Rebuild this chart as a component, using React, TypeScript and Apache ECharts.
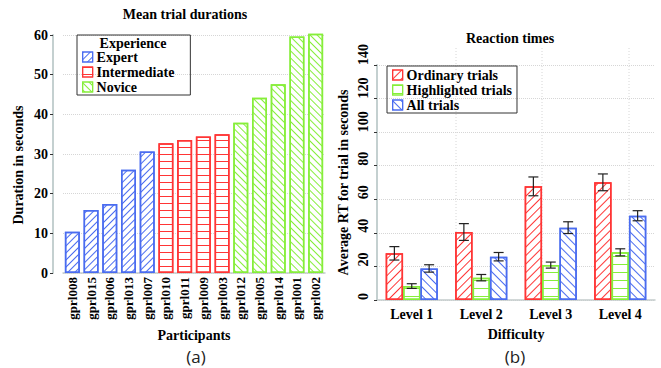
import React, { useEffect, useRef } from 'react';
import * as echarts from 'echarts';

// ---------- data ----------
const participants = ['gprl008', 'gprl015', 'gprl006', 'gprl013', 'gprl007', 'gprl010', 'gprl011', 'gprl009', 'gprl003', 'gprl012', 'gprl005', 'gprl014', 'gprl001', 'gprl002'];
const expertDurations = [10.4, 15.9, 17.4, 26.0, 30.6, null, null, null, null, null, null, null, null, null];
const intermediateDurations = [null, null, null, null, null, 32.7, 33.5, 34.4, 35.0, null, null, null, null, null];
const noviceDurations = [null, null, null, null, null, null, null, null, null, 37.9, 44.2, 47.6, 59.6, 60.3];

const levels = ['Level 1', 'Level 2', 'Level 3', 'Level 4'];
const ordinaryMeans = [27.8, 40.5, 67.7, 70.1];
const ordinaryErr = [4.0, 5.0, 5.6, 5.0];
const highlightedMeans = [8.3, 13.3, 20.8, 28.4];
const highlightedErr = [1.4, 1.9, 1.8, 2.1];
const allMeans = [18.8, 25.8, 43.1, 50.2];
const allErr = [2.2, 2.5, 3.5, 3.0];

const SERIF = "'Liberation Serif', 'Times New Roman', serif";
const BLUE = '#4a6cf0';
const RED = '#ff3535';
const GREEN = '#86ee3a';

function decal(color: string, kind: 'fwd' | 'back' | 'horiz', gap = 4) {
  return {
    symbol: 'rect',
    symbolSize: 1,
    color,
    dashArrayX: [1, 0],
    dashArrayY: [0.8, gap],
    rotation: kind === 'fwd' ? -Math.PI / 4 : kind === 'back' ? Math.PI / 4 : 0,
  };
}

function barStyle(color: string, kind: 'fwd' | 'back' | 'horiz', gap: number) {
  return { color: '#ffffff', borderColor: color, borderWidth: 1.5, decal: decal(color, kind, gap) };
}

export default function App() {
  const ref = useRef<HTMLDivElement>(null);
  useEffect(() => {
    if (!ref.current) return;
    const chart = echarts.init(ref.current, undefined, { renderer: 'svg' });
    const errData: number[][] = [];
    [
      [ordinaryMeans, ordinaryErr],
      [highlightedMeans, highlightedErr],
      [allMeans, allErr],
    ].forEach(([m, e], si) => {
      m.forEach((v, ci) => errData.push([ci, v, e[ci], si]));
    });

    const tickLabel = { fontFamily: SERIF, fontWeight: 'bold', fontSize: 14, color: '#000' };
    const split = { show: true, lineStyle: { color: '#d6d6d6', type: 'dotted', width: 1 } };

    chart.setOption({
      animation: false,
      backgroundColor: '#ffffff',
      grid: [
        { left: 63, right: 336, top: 35, bottom: 95 },
        { left: 377, right: 6, top: 65, bottom: 68 },
      ],
      xAxis: [
        {
          type: 'category', gridIndex: 0, data: participants,
          name: 'Participants', nameLocation: 'middle', nameGap: 55,
          nameTextStyle: { ...tickLabel, fontSize: 14 },
          axisLine: { lineStyle: { color: '#c4cccc', width: 1.5 } },
          axisTick: { show: false },
          axisLabel: { ...tickLabel, fontSize: 13, rotate: 90, margin: 4, interval: 0 },
        },
        {
          type: 'category', gridIndex: 1, data: levels,
          name: 'Difficulty', nameLocation: 'middle', nameGap: 27,
          nameTextStyle: { ...tickLabel },
          axisLine: { lineStyle: { color: '#c4cccc', width: 1.5 } },
          axisTick: { show: false },
          axisLabel: { ...tickLabel, margin: 7 },
        },
      ],
      yAxis: [
        {
          type: 'value', gridIndex: 0, min: 0, max: 60, interval: 10, offset: 10,
          name: 'Duration in seconds', nameLocation: 'middle', nameGap: 28, nameRotate: 90,
          nameTextStyle: { ...tickLabel, padding: [0, 22, 0, 0] },
          axisLine: { show: true, lineStyle: { color: '#c4d0d0', width: 2 } },
          axisTick: { show: true, length: 3, lineStyle: { color: '#333' } },
          axisLabel: { ...tickLabel, margin: 5 },
          splitLine: split,
        },
        {
          type: 'value', gridIndex: 1, min: 0, max: 140, interval: 20,
          name: 'Average RT for trial in seconds', nameLocation: 'middle', nameGap: 27, nameRotate: 90,
          nameTextStyle: { ...tickLabel },
          axisLine: { show: true, lineStyle: { color: '#c4d0d0', width: 2 } },
          axisTick: { show: true, length: 3, lineStyle: { color: '#333' } },
          axisLabel: { ...tickLabel, rotate: 90, align: 'left', verticalAlign: 'bottom', margin: 7 },
          splitLine: split,
        },
      ],
      legend: [
        {
          data: ['Expert', 'Intermediate', 'Novice'], orient: 'vertical', left: 77, top: 35,
          padding: [15, 16, 1, 5], itemGap: 1, itemWidth: 10, itemHeight: 10, icon: 'rect',
          selectedMode: false, borderColor: '#333', borderWidth: 1, itemStyle: { borderWidth: 1.2 },
          textStyle: { ...tickLabel, fontSize: 14, padding: [0, 0, 0, -1] },
        },
        {
          data: ['Ordinary trials', 'Highlighted trials', 'All trials'], orient: 'vertical', left: 387, top: 66,
          padding: [2, 5, 1, 5], itemGap: 1, itemWidth: 10, itemHeight: 10, icon: 'rect',
          selectedMode: false, borderColor: '#333', borderWidth: 1, itemStyle: { borderWidth: 1.2 },
          textStyle: { ...tickLabel, fontSize: 14, padding: [0, 0, 0, -1] },
        },
      ],
      graphic: [
        { type: 'text', x: 185, y: 14, style: { text: 'Mean trial durations', align: 'center', verticalAlign: 'middle', font: `bold 14px ${SERIF}`, fill: '#000' } },
        { type: 'text', x: 510, y: 38, style: { text: 'Reaction times', align: 'center', verticalAlign: 'middle', font: `bold 14px ${SERIF}`, fill: '#000' } },
        { type: 'text', x: 133, y: 43, z: 100, style: { text: 'Experience', align: 'center', verticalAlign: 'middle', font: `bold 14px ${SERIF}`, fill: '#000' } },
        { type: 'text', x: 196, y: 356, style: { text: '(a)', align: 'center', verticalAlign: 'middle', font: `17px 'Open Sans', 'Liberation Sans', sans-serif`, fill: '#222' } },
        { type: 'text', x: 515, y: 356, style: { text: '(b)', align: 'center', verticalAlign: 'middle', font: `17px 'Open Sans', 'Liberation Sans', sans-serif`, fill: '#222' } },
        ...[456, 542, 629].map((x) => ({
          type: 'line', z: -1, shape: { x1: x, y1: 48, x2: x, y2: 300 },
          style: { stroke: '#d6d6d6', lineWidth: 1, lineDash: [1, 2] },
        })),
      ],
      series: [
        { name: 'Expert', type: 'bar', xAxisIndex: 0, yAxisIndex: 0, stack: 'p', barCategoryGap: '20%', clip: false, data: expertDurations, itemStyle: barStyle(BLUE, 'fwd', 4) },
        { name: 'Intermediate', type: 'bar', xAxisIndex: 0, yAxisIndex: 0, stack: 'p', barCategoryGap: '20%', clip: false, data: intermediateDurations, itemStyle: barStyle(RED, 'horiz', 6) },
        { name: 'Novice', type: 'bar', xAxisIndex: 0, yAxisIndex: 0, stack: 'p', barCategoryGap: '20%', clip: false, data: noviceDurations, itemStyle: barStyle(GREEN, 'back', 4) },
        { name: 'Ordinary trials', type: 'bar', xAxisIndex: 1, yAxisIndex: 1, barGap: '0%', barCategoryGap: '25%', data: ordinaryMeans, itemStyle: barStyle(RED, 'fwd', 5) },
        { name: 'Highlighted trials', type: 'bar', xAxisIndex: 1, yAxisIndex: 1, barGap: '0%', barCategoryGap: '25%', data: highlightedMeans, itemStyle: barStyle(GREEN, 'horiz', 7) },
        { name: 'All trials', type: 'bar', xAxisIndex: 1, yAxisIndex: 1, barGap: '0%', barCategoryGap: '25%', data: allMeans, itemStyle: barStyle(BLUE, 'back', 5) },
        {
          name: 'errors', type: 'custom', xAxisIndex: 1, yAxisIndex: 1, z: 10, encode: { x: 0, y: 1 },
          data: errData,
          renderItem: (params: any, api: any) => {
            const ci = api.value(0);
            const m = api.value(1);
            const e = api.value(2);
            const si = api.value(3);
            const band = api.size([1, 0])[0];
            const bw = (band * 0.75) / 3;
            const hi = api.coord([ci, m + e]);
            const lo = api.coord([ci, m - e]);
            const x = hi[0] + (si - 1) * bw;
            const cap = 5;
            const st = { stroke: '#222', lineWidth: 1.2 };
            return {
              type: 'group',
              children: [
                { type: 'line', shape: { x1: x, y1: hi[1], x2: x, y2: lo[1] }, style: st },
                { type: 'line', shape: { x1: x - cap, y1: hi[1], x2: x + cap, y2: hi[1] }, style: st },
                { type: 'line', shape: { x1: x - cap, y1: lo[1], x2: x + cap, y2: lo[1] }, style: st },
              ],
            };
          },
        },
      ],
    });
    return () => chart.dispose();
  }, []);
  return <div ref={ref} style={{ position: 'fixed', left: 0, top: 0, width: 661, height: 368 }} />;
}
